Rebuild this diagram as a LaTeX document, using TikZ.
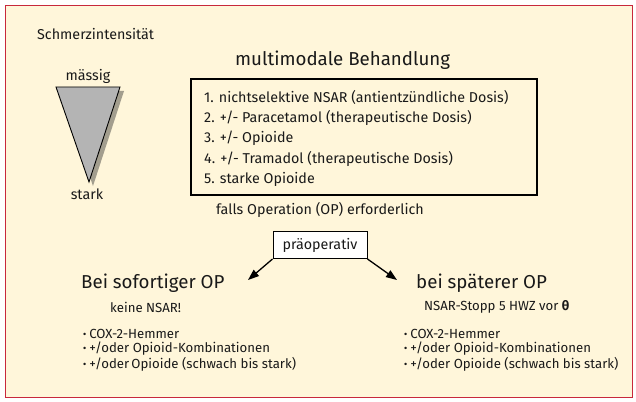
\documentclass[tikz,border=0pt]{standalone}
\usepackage{fontspec}
\setmainfont{Fira Sans}
\usetikzlibrary{arrows.meta}
\definecolor{creme}{HTML}{FFF6DA}
\definecolor{rahmenrot}{HTML}{C8283C}
\definecolor{schatten}{HTML}{A39E8E}
\definecolor{keilgrau}{HTML}{B4B4B4}
\newcommand{\punkt}{{\bfseries ·}\hspace{3pt}}
\begin{document}
\begin{tikzpicture}[x=1pt,y=-1pt]
	\tikzstyle{every node}+=[inner sep=0pt, text=black!90]
	\tikzstyle{txt}=[anchor=west, font=\fontsize{14.3}{16}\selectfont]
	\tikzstyle{gross}=[anchor=west, font=\fontsize{18.7}{21}\selectfont]
	\tikzstyle{klein}=[anchor=west, font=\fontsize{13.2}{15}\selectfont]
	\tikzstyle{pfeil}=[line width=1.3pt, -{Triangle[length=11pt,width=8pt]}]
	% Hintergrund und Rahmen
	\useasboundingbox (0,0) rectangle (636,401);
	\fill [creme] (5,5) rectangle (632,397);
	\draw [rahmenrot, line width=0.9pt] (5,5) rectangle (632,397);
	% Keil
	\node [txt] (intens) at (37,34) {Schmerzintensität};
	\fill [schatten] (61,91) -- (124,91) -- (93,186) -- cycle;
	\filldraw [fill=keilgrau, draw=black, line width=0.9pt] (56,87) -- (120,87) -- (89,182) -- cycle;
	\node [txt, anchor=south] (maessig) at (88,84) {mässig};
	\node [txt, anchor=north] (stark) at (87,189) {stark};
	% Behandlung
	\node [gross] (titel) at (235,60) {multimodale Behandlung};
	\node [draw, line width=1.3pt, minimum width=346pt, minimum height=116pt] (liste) at (364,137) {};
	\foreach \zeile [count=\i] in {1. nichtselektive NSAR (antientzündliche Dosis),
		2. +/- Paracetamol (therapeutische Dosis), 3. +/- Opioide,
		4. +/- Tramadol (therapeutische Dosis), 5. starke Opioide}
		\node [txt] (z\i) at (204,{97+20.6*(\i-1)}) {\zeile};
	\node [txt] (falls) at (216,210) {falls Operation (OP) erforderlich};
	\node [draw, fill=white, line width=1pt, minimum width=94pt, minimum height=27pt, txt, anchor=center] (praeop) at (320,245) {präoperativ};
	\coordinate (spitzeL) at (248,280);
	\coordinate (spitzeR) at (397,280);
	\draw [pfeil] (praeop.south west) -- (spitzeL);
	\draw [pfeil] (praeop.south east) -- (spitzeR);
	% sofortige OP
	\node [gross] (sofort) at (81,283) {Bei sofortiger OP};
	\node [klein] (keine) at (110,307) {keine NSAR!};
	\node [klein] (a1) at (83,334) {\punkt COX-2-Hemmer};
	\node [klein] (a2) at (83,349) {\punkt +/oder Opioid-Kombinationen};
	\node [klein] (a3) at (83,364) {\punkt +/oder\,Opioide (schwach bis stark)};
	% spaetere OP
	\node [gross] (spaeter) at (416,283) {bei späterer OP};
	\node [klein] (stopp) at (424,307) {NSAR-Stopp 5 HWZ vor \textbf{θ}};
	\node [klein] (b1) at (404,334) {\punkt COX-2-Hemmer};
	\node [klein] (b2) at (404,349) {\punkt +/oder Opioid-Kombinationen};
	\node [klein] (b3) at (404,364) {\punkt +/oder Opioide (schwach bis stark)};
\end{tikzpicture}
\end{document}
